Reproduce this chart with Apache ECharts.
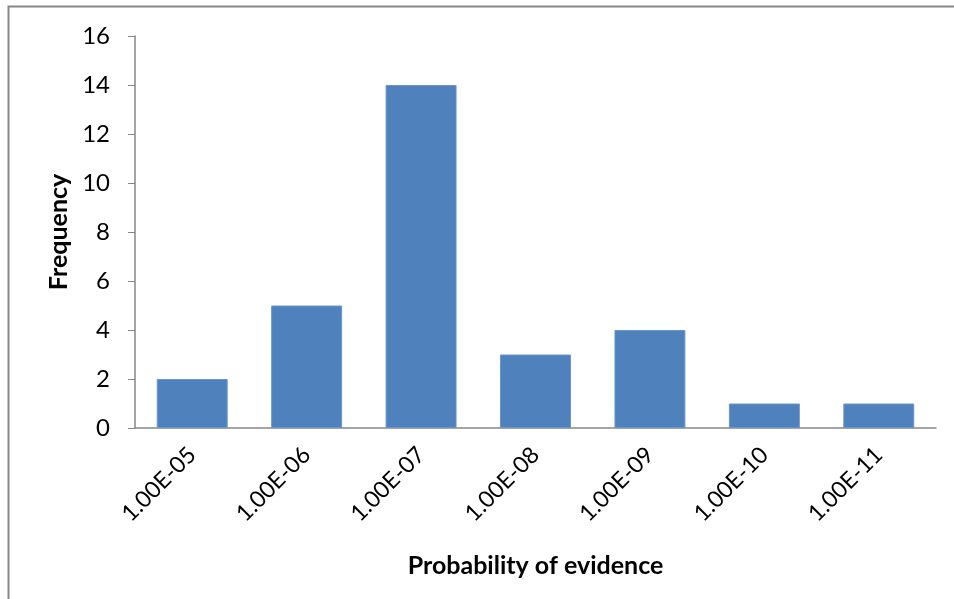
<!DOCTYPE html>
<html>
<head>
<meta charset="utf-8">
<script src="https://cdn.jsdelivr.net/npm/echarts@6/dist/echarts.min.js"></script>
<style>
  html, body { margin: 0; padding: 0; background: #fff; }
  #chart { width: 954px; height: 599px; }
</style>
</head>
<body>
<div id="chart"></div>
<script>
// data
var categories = ['1.00E-05', '1.00E-06', '1.00E-07', '1.00E-08', '1.00E-09', '1.00E-10', '1.00E-11'];
var frequency = [2, 5, 14, 3, 4, 1, 1];

var chart = echarts.init(document.getElementById('chart'));

var option = {
    animation: false,
    backgroundColor: '#fff',
    graphic: [{
        type: 'rect',
        shape: { x: 8.5, y: 6.5, width: 1000, height: 1000 },
        style: { fill: 'none', stroke: '#878787', lineWidth: 2 }
    }],
    grid: { left: 135, right: 18, top: 36, bottom: 171 },
    xAxis: {
        type: 'category',
        data: categories,
        name: 'Probability of evidence',
        nameLocation: 'middle',
        nameGap: 125,
        nameTextStyle: { fontFamily: 'Lato', fontWeight: 'bold', fontSize: 25, color: '#000' },
        axisLine: { lineStyle: { color: '#868686', width: 1.5 } },
        axisTick: { show: false },
        axisLabel: { rotate: 45, margin: 23, fontFamily: 'Lato', fontSize: 23, color: '#000' }
    },
    yAxis: {
        type: 'value',
        min: 0, max: 16, interval: 2,
        name: 'Frequency',
        nameLocation: 'middle',
        nameGap: 61,
        nameTextStyle: { fontFamily: 'Lato', fontWeight: 'bold', fontSize: 25, color: '#000' },
        axisLine: { show: true, lineStyle: { color: '#868686', width: 1.5 } },
        axisTick: { show: true, length: 7, lineStyle: { color: '#868686' } },
        splitLine: { show: false },
        axisLabel: { margin: 25, fontFamily: 'Lato', fontSize: 24, color: '#000' }
    },
    series: [{
        type: 'bar',
        data: frequency,
        barWidth: '62%',
        itemStyle: { color: '#4F81BD', borderColor: '#6a96cc', borderWidth: 1 }
    }]
};
chart.setOption(option);
</script>
</body>
</html>
